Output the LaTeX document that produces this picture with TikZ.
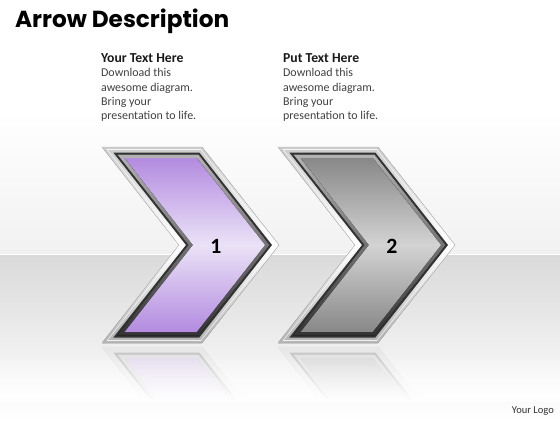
\documentclass[tikz,border=0pt]{standalone}
\usepackage{fontspec}
\setmainfont{Carlito}
\newfontfamily\titlefont{Poppins}
\usetikzlibrary{positioning,fadings}

\definecolor{lilacTop}{HTML}{B38BE0}
\definecolor{lilacMid}{HTML}{EBE2F7}
\definecolor{steelTop}{HTML}{888888}
\definecolor{steelMid}{HTML}{D3D3D3}
\definecolor{bodygrey}{HTML}{404040}

% chevron geometry, in pixels of the 560x420 page
\newcommand\chW{100}
\newcommand\chD{77}
\newcommand\chH{98}
\newcommand\chY{147}
% #1 = left x of the chevron, #2 = inset of the outline
\newcommand\chevpath[2]{({#1+2.058*#2},{\chY+#2}) -- ({#1+\chW-0.486*#2},{\chY+#2})
  -- ({#1+\chW+\chD-1.272*#2},{\chY+\chH}) -- ({#1+\chW-0.486*#2},{\chY+2*\chH-#2})
  -- ({#1+2.058*#2},{\chY+2*\chH-#2}) -- ({#1+\chD+1.272*#2},{\chY+\chH}) -- cycle}

\begin{document}
\begin{tikzpicture}[x=0.05cm,y=-0.05cm]
        \tikzset{silver/.style={top color=gray!40,bottom color=gray!60,middle color=white,draw=gray!55,line width=0.4pt},
        bezel/.style={fill=black!80},
        bevel/.style={top color=gray!60,bottom color=black!80},
        lilac/.style={top color=lilacTop,bottom color=lilacTop,middle color=lilacMid},
        steel/.style={top color=steelTop,bottom color=steelTop,middle color=steelMid},
        head/.style={anchor=base west,inner sep=0,font=\bfseries\fontsize{19.5}{23}\selectfont,text=black!90},
        body/.style={anchor=north west,inner sep=0,align=left,font=\fontsize{17}{20.3}\selectfont,text=bodygrey},
        num/.style={inner sep=0,font=\bfseries\fontsize{31}{33}\selectfont,text=black}
        }
        \useasboundingbox (0,0) rectangle (560,420);

%% wall and floor
        \fill[white] (0,0) rectangle (560,110);
        \fill[top color=white,bottom color=gray!11] (0,110) rectangle (560,255);
        \fill[top color=gray!29,bottom color=white] (0,255) rectangle (560,420);
        \draw[white,line width=1pt] (0,254) -- (560,254);

%% reflections
        \begin{scope}[transparency group,opacity=0.22]
        \clip (0,346) rectangle (560,400);
        \begin{scope}[shift={(0,690)},yscale=-1]
        \foreach \xo/\panel in {102/lilac,278/steel} {
            \fill[silver] \chevpath{\xo}{0};
            \fill[bezel] \chevpath{\xo}{5.5};
            \fill[bevel] \chevpath{\xo}{7.5};
            \fill[\panel] \chevpath{\xo}{11};
        }
        \end{scope}
        \end{scope}
        \fill[white,path fading=north] (0,352) rectangle (560,402);

%% chevrons
        \foreach \xo/\panel/\lbl/\nm in {102/lilac/1/numA,278/steel/2/numB} {
            \filldraw[silver] \chevpath{\xo}{0};
            \draw[white,line width=0.8pt,opacity=0.8] \chevpath{\xo}{2.5};
            \fill[bezel] \chevpath{\xo}{5.5};
            \fill[bevel] \chevpath{\xo}{7.5};
            \fill[\panel] \chevpath{\xo}{11};
            \node[num] (\nm) at (\xo+114,246.5) {\lbl};
        }

%% texts
        \node[anchor=base west,inner sep=0,font=\titlefont\bfseries\fontsize{33}{38}\selectfont] (title) at (15,27) {Arrow Description};
        \node[head] (headA) at (101,62.7) {Your Text Here};
        \node[below=8pt of headA.base west,body] (bodyA) {Download this\\awesome diagram.\\Bring your\\presentation to life.};
        \node[head] (headB) at (283,62.7) {Put Text Here};
        \node[below=8pt of headB.base west,body] (bodyB) {Download this\\awesome diagram.\\Bring your\\presentation to life.};
        \node[anchor=base east,inner sep=0,font=\fontsize{15}{17}\selectfont,text=black!80] (logo) at (554,413) {Your Logo};
    \end{tikzpicture}
\end{document}
